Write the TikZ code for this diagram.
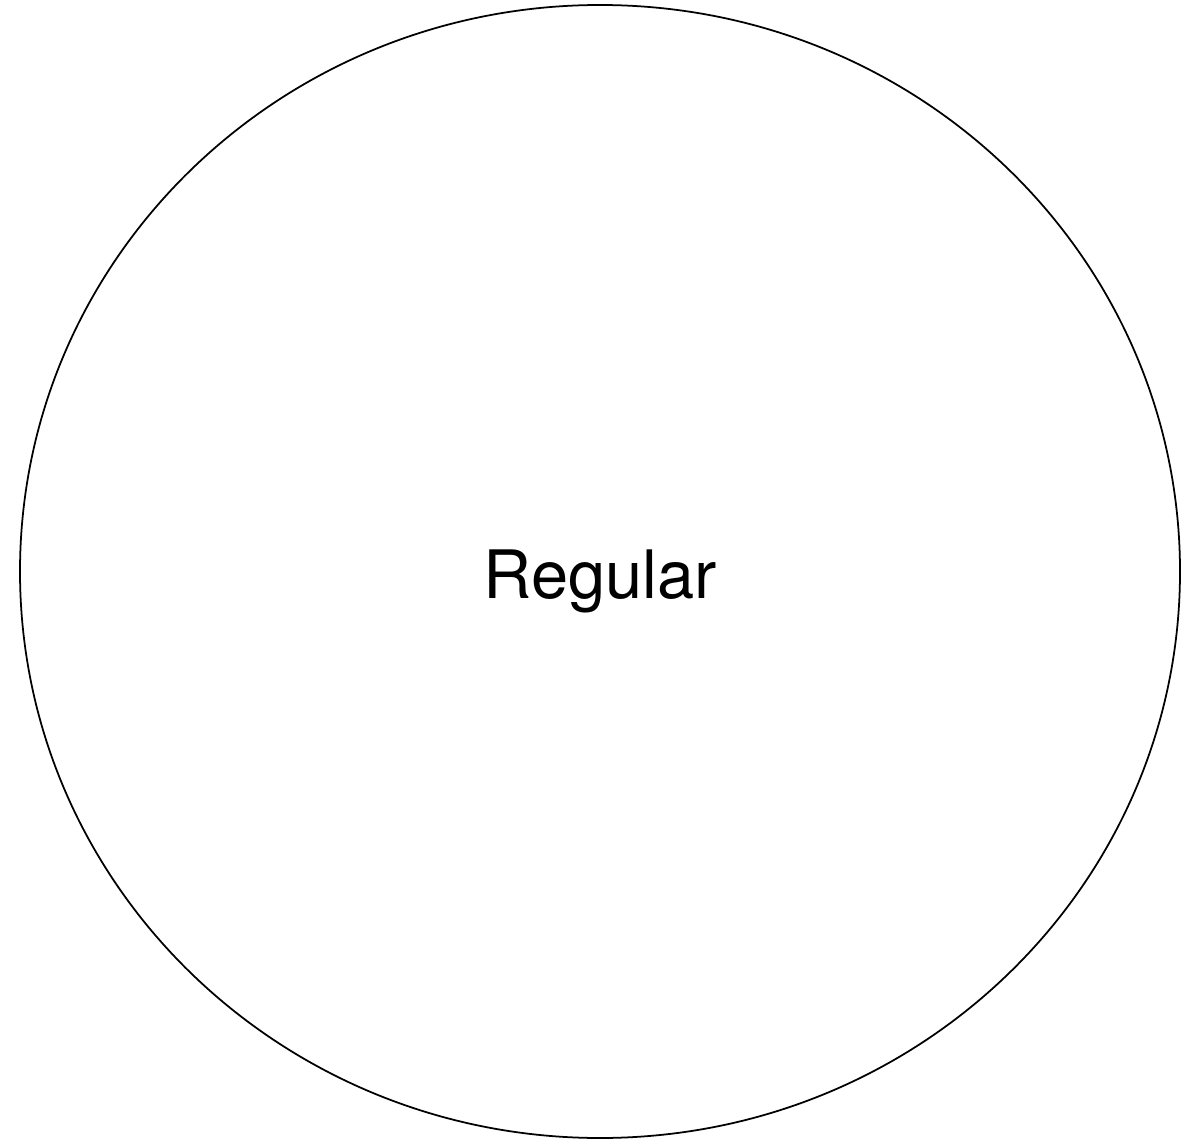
\documentclass[tikz,border=0pt]{standalone}
\usepackage{fontspec}
\setmainfont{TeX Gyre Heros}
\usetikzlibrary{shapes.geometric}
\begin{document}
\begin{tikzpicture}[
    state/.style={ellipse, draw, line width=1pt, minimum width=23.2cm, minimum height=22.66cm, inner sep=0pt, text height=39pt, text depth=8pt, font=\fontsize{38}{46}\selectfont}
]
\useasboundingbox (0,0) rectangle (24.02,22.82);
\node[state] (regular) at (12.0,11.39) {Regular};
\end{tikzpicture}
\end{document}
